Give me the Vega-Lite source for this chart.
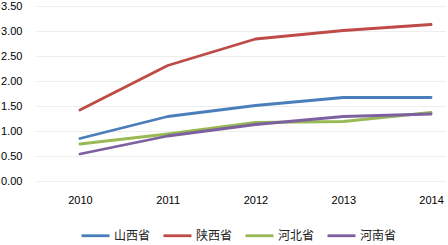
{
  "$schema": "https://vega.github.io/schema/vega-lite/v6.json",
  "width": 410,
  "height": 175,
  "padding": {"left": 0, "top": 0, "right": 0, "bottom": 0},
  "background": "white",
  "config": {"view": {"stroke": null}, "font": "Liberation Sans"},
  "data": {
    "values": [
      {"year": 2010, "province": "山西省", "value": 0.85},
      {"year": 2011, "province": "山西省", "value": 1.29},
      {"year": 2012, "province": "山西省", "value": 1.51},
      {"year": 2013, "province": "山西省", "value": 1.67},
      {"year": 2014, "province": "山西省", "value": 1.67},
      {"year": 2010, "province": "陕西省", "value": 1.42},
      {"year": 2011, "province": "陕西省", "value": 2.31},
      {"year": 2012, "province": "陕西省", "value": 2.84},
      {"year": 2013, "province": "陕西省", "value": 3.01},
      {"year": 2014, "province": "陕西省", "value": 3.13},
      {"year": 2010, "province": "河北省", "value": 0.74},
      {"year": 2011, "province": "河北省", "value": 0.94},
      {"year": 2012, "province": "河北省", "value": 1.17},
      {"year": 2013, "province": "河北省", "value": 1.19},
      {"year": 2014, "province": "河北省", "value": 1.37},
      {"year": 2010, "province": "河南省", "value": 0.54},
      {"year": 2011, "province": "河南省", "value": 0.90},
      {"year": 2012, "province": "河南省", "value": 1.13},
      {"year": 2013, "province": "河南省", "value": 1.29},
      {"year": 2014, "province": "河南省", "value": 1.34}
    ]
  },
  "mark": {"type": "line", "strokeWidth": 2.8, "strokeCap": "round", "strokeJoin": "round"},
  "encoding": {
    "x": {
      "field": "year",
      "type": "quantitative",
      "scale": {"domain": [2009.5, 2014.17], "nice": false, "zero": false},
      "axis": {
        "title": null,
        "values": [2010, 2011, 2012, 2013, 2014],
        "format": "d",
        "grid": false,
        "domain": false,
        "ticks": false,
        "labelPadding": 13,
        "labelFontSize": 11,
        "labelColor": "#000000",
        "labelFont": "Liberation Sans"
      }
    },
    "y": {
      "field": "value",
      "type": "quantitative",
      "scale": {"domain": [0, 3.5], "nice": false},
      "axis": {
        "title": null,
        "values": [0, 0.5, 1, 1.5, 2, 2.5, 3, 3.5],
        "format": ".2f",
        "domain": false,
        "ticks": false,
        "grid": true,
        "gridColor": "#eeeeee",
        "gridWidth": 1,
        "labelPadding": 14,
        "labelFontSize": 11,
        "labelColor": "#000000",
        "labelFont": "Liberation Sans"
      }
    },
    "color": {
      "field": "province",
      "type": "nominal",
      "sort": ["山西省", "陕西省", "河北省", "河南省"],
      "scale": {
        "domain": ["山西省", "陕西省", "河北省", "河南省"],
        "range": ["#4A7EBB", "#BE4B48", "#98B954", "#7D60A0"]
      },
      "legend": {
        "title": null,
        "orient": "none",
        "legendX": 44,
        "legendY": 214,
        "direction": "horizontal",
        "symbolType": "stroke",
        "symbolSize": 784,
        "symbolStrokeWidth": 2.8,
        "labelFont": "Noto Sans CJK SC",
        "labelFontSize": 12,
        "labelColor": "#222222",
        "columnPadding": 6,
        "labelOffset": 3
      }
    }
  }
}
